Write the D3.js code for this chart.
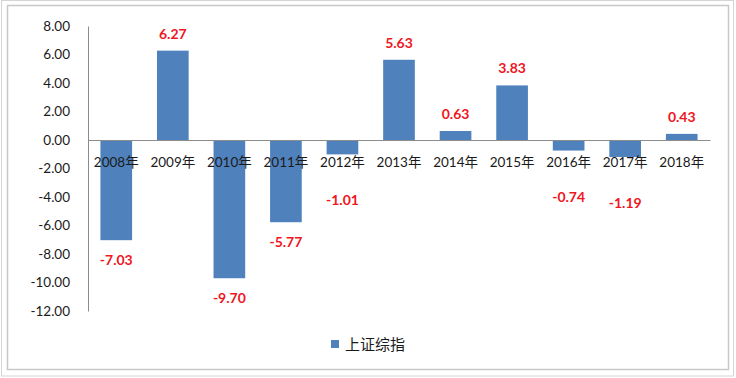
<!DOCTYPE html>
<html>
<head>
<meta charset="utf-8">
<script src="https://cdn.jsdelivr.net/npm/d3@7"></script>
<style>
	body { margin: 0; background: #fff; }
	svg { display: block; }
	text { font-family: Lato, "Noto Sans CJK SC", sans-serif; }
</style>
</head>
<body>
<div id="chart"></div>
<script>
'use strict';
// data
var years = ['2008年','2009年','2010年','2011年','2012年','2013年','2014年','2015年','2016年','2017年','2018年'];
var values = [-7.03, 6.27, -9.70, -5.77, -1.01, 5.63, 0.63, 3.83, -0.74, -1.19, 0.43];
var yTicks = [8, 6, 4, 2, 0, -2, -4, -6, -8, -10, -12];
var seriesName = '上证综指';

var width = 736, height = 378;
var margin = {top: 26, right: 26, bottom: 67, left: 88};

var svg = d3.select('#chart').append('svg')
	.attr('width', width)
	.attr('height', height);

//outer frames
svg.append('rect')
	.attr('x', 1.5).attr('y', 0.5)
	.attr('width', width - 4).attr('height', height - 2.5)
	.attr('fill', 'none').attr('stroke', '#d4d4d4');
svg.append('rect')
	.attr('x', 7.5).attr('y', 5.5)
	.attr('width', 721).attr('height', 364)
	.attr('fill', '#fff').attr('stroke', '#c8c8c8').attr('stroke-width', 1.5);

var x = d3.scaleBand()
	.domain(years)
	.range([margin.left, width - margin.right])
	.paddingInner(0.44)
	.paddingOuter(0.22);

var y = d3.scaleLinear()
	.domain([-12, 8])
	.range([height - margin.bottom, margin.top]);

//y axis
var yAxis = svg.append('g')
	.attr('transform', 'translate(' + margin.left + ',0)')
	.call(d3.axisLeft(y).tickValues(yTicks).tickSize(0).tickPadding(18)
		.tickFormat(function(d) { return d.toFixed(2); }));
yAxis.select('.domain').attr('stroke', '#8c8c8c');
yAxis.selectAll('text')
	.attr('fill', '#1a1a1a')
	.style('font-size', '13.5px');

//bars
svg.append('g').selectAll('rect')
	.data(values)
	.enter().append('rect')
		.attr('x', function(d, i) { return x(years[i]); })
		.attr('y', function(d) { return y(Math.max(0, d)); })
		.attr('width', x.bandwidth())
		.attr('height', function(d) { return Math.abs(y(d) - y(0)); })
		.attr('fill', '#4f81bd');

//zero line with category labels
var xAxis = svg.append('g')
	.attr('transform', 'translate(0,' + y(0) + ')')
	.call(d3.axisBottom(x).tickSize(0).tickPadding(17).tickSizeOuter(0));
xAxis.select('.domain').attr('stroke', '#8c8c8c');
xAxis.selectAll('text')
	.attr('fill', '#1a1a1a')
	.style('font-size', '13.5px');

//value labels; short negative bars push their label below the category labels
function labelY(d) {
	if (d >= 0) return y(d) - 12;
	var ly = y(d) + 25;
	if (ly < y(0) + 50) ly = y(d) + 51;
	return ly;
}
svg.append('g').selectAll('text')
	.data(values)
	.enter().append('text')
		.attr('x', function(d, i) { return x(years[i]) + x.bandwidth() / 2; })
		.attr('y', labelY)
		.attr('text-anchor', 'middle')
		.attr('fill', '#f0161e')
		.style('font-size', '14px')
		.style('font-weight', 'bold')
		.text(function(d) { return d.toFixed(2); });

//legend
var legend = svg.append('g').attr('transform', 'translate(331,344)');
legend.append('rect')
	.attr('x', 0).attr('y', -4)
	.attr('width', 8).attr('height', 8)
	.attr('fill', '#4f81bd');
legend.append('text')
	.attr('x', 14).attr('y', 6)
	.attr('fill', '#1a1a1a')
	.style('font-size', '15px')
	.style('font-family', '"Noto Sans CJK SC", sans-serif')
	.text(seriesName);
</script>
</body>
</html>
